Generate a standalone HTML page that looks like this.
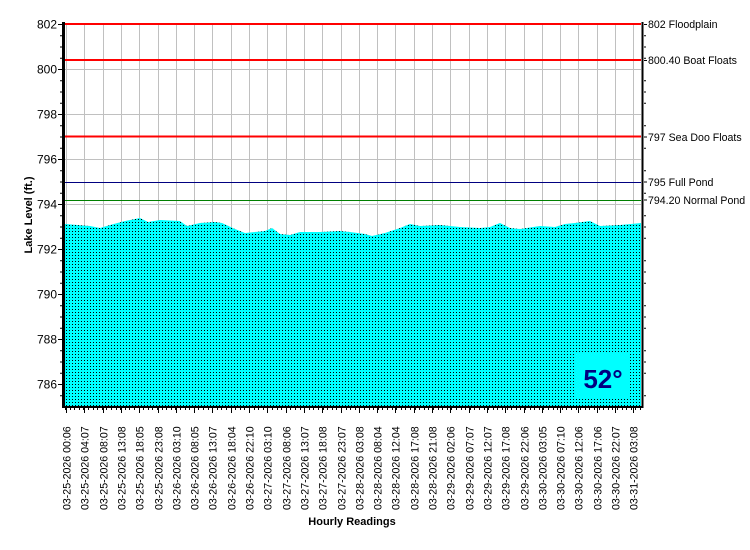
<!DOCTYPE html>
<html><head><meta charset="utf-8"><style>
html,body{margin:0;padding:0;background:#fff;}
svg{display:block;font-family:"Liberation Sans",Arial,sans-serif;}
</style></head><body>
<svg width="750" height="550" viewBox="0 0 750 550" xmlns="http://www.w3.org/2000/svg">
<defs>
<pattern id="dots" x="65" y="0" width="3" height="3" patternUnits="userSpaceOnUse">
<rect width="3" height="3" fill="#00ffff"/><rect x="1" y="0" width="1" height="1" fill="#000"/>
</pattern>
</defs>
<rect width="750" height="550" fill="#fff"/>
<g id="grid" stroke="#c0c0c0" stroke-width="1"></g>
<polygon id="area" fill="url(#dots)" points=""/>
<line x1="65" y1="24" x2="641" y2="24" stroke="#ff0000" stroke-width="2"/>
<line x1="65" y1="60" x2="641" y2="60" stroke="#ff0000" stroke-width="2"/>
<line x1="65" y1="136.5" x2="641" y2="136.5" stroke="#ff0000" stroke-width="2"/>
<line x1="65" y1="182.5" x2="641" y2="182.5" stroke="#000080" stroke-width="1"/>
<line x1="65" y1="200.5" x2="641" y2="200.5" stroke="#008000" stroke-width="1"/>
<rect x="575" y="354" width="53" height="44" fill="#00ffff"/>
<text x="603" y="388" font-size="26" font-weight="bold" fill="#000080" text-anchor="middle">52°</text>
<line x1="63.5" y1="22" x2="63.5" y2="408" stroke="#000" stroke-width="3"/>
<line x1="642.5" y1="22" x2="642.5" y2="408" stroke="#000" stroke-width="2"/>
<line x1="62" y1="407" x2="643" y2="407" stroke="#000" stroke-width="2"/>
<g id="ticks" stroke="#000" stroke-width="1"></g>
<g id="lbl" font-size="12" fill="#000"></g>
<g font-size="10.6" fill="#000">
<text x="648" y="28">802 Floodplain</text>
<text x="648" y="64">800.40 Boat Floats</text>
<text x="648" y="141">797 Sea Doo Floats</text>
<text x="648" y="186">795 Full Pond</text>
<text x="648" y="204">794.20 Normal Pond</text>
</g>
<text transform="translate(32,215) rotate(-90)" font-size="11" font-weight="bold" text-anchor="middle">Lake Level (ft.)</text>
<text x="352" y="525" font-size="11" font-weight="bold" text-anchor="middle">Hourly Readings</text>
<g id="xl" font-size="10.6" fill="#000"></g>
</svg>
<script>
var NS="http://www.w3.org/2000/svg";
function el(p,t,a,txt){var e=document.createElementNS(NS,t);for(var k in a)e.setAttribute(k,a[k]);if(txt)e.textContent=txt;document.getElementById(p).appendChild(e);return e;}
function Y(v){return 24+(802-v)*22.5;}
var labels=["03-25-2026 00:06","03-25-2026 04:07","03-25-2026 08:07","03-25-2026 13:08","03-25-2026 18:05","03-25-2026 23:08","03-26-2026 03:10","03-26-2026 08:05","03-26-2026 13:07","03-26-2026 18:04","03-26-2026 22:10","03-27-2026 03:10","03-27-2026 08:06","03-27-2026 13:07","03-27-2026 18:08","03-27-2026 23:07","03-28-2026 03:08","03-28-2026 08:04","03-28-2026 12:04","03-28-2026 17:08","03-28-2026 21:08","03-29-2026 02:06","03-29-2026 07:07","03-29-2026 12:07","03-29-2026 17:08","03-29-2026 22:06","03-30-2026 03:05","03-30-2026 07:10","03-30-2026 12:06","03-30-2026 17:06","03-30-2026 22:07","03-31-2026 03:08"];
for(var v=786;v<=802;v+=2){var y=Y(v)+0.5;el("grid","line",{x1:65,y1:y,x2:641,y2:y});el("lbl","text",{x:57,y:y+4,"text-anchor":"end"},String(v));el("ticks","line",{x1:58,y1:y,x2:62,y2:y});}
for(var v=785.5;v<=802;v+=0.5){if(v%2){var y=Y(v)+0.5;el("ticks","line",{x1:60,y1:y,x2:62,y2:y});el("ticks","line",{x1:644,y1:y,x2:646,y2:y});}}
[802,800.4,797,795,794.2].forEach(function(v){var y=Y(v)+0.5;el("ticks","line",{x1:644,y1:y,x2:647,y2:y});});
for(var i=0;i<labels.length;i++){var x=Math.round(66+i*18.3)+0.5;el("grid","line",{x1:x,y1:24,x2:x,y2:406});el("ticks","line",{x1:x,y1:408,x2:x,y2:413});
el("xl","text",{transform:"translate("+(x+4)+",510) rotate(-90)"},labels[i]);}
for(var x=65;x<641;x+=4.6){el("ticks","line",{x1:Math.round(x)+0.5,y1:408,x2:Math.round(x)+0.5,y2:410});}
var p=[[65,224],[90,226],[100,228],[110,225],[125,221],[140,218],[148,222],[160,220],[180,221],[187,226],[200,223],[215,222],[222,223],[235,229],[245,233],[255,232],[265,231],[272,228],[280,234],[290,235],[300,232],[320,232],[340,231],[350,232],[365,234],[372,236],[385,233],[400,228],[410,224],[420,226],[440,225],[460,227],[480,228],[490,227],[500,223],[510,228],[520,229],[540,226],[555,227],[565,224],[575,223],[590,221],[600,226],[620,225],[641,223]];
var s=p.map(function(a){return a.join(",")}).join(" ")+" 641,406 65,406";
document.getElementById("area").setAttribute("points",s);
</script>
</body></html>
